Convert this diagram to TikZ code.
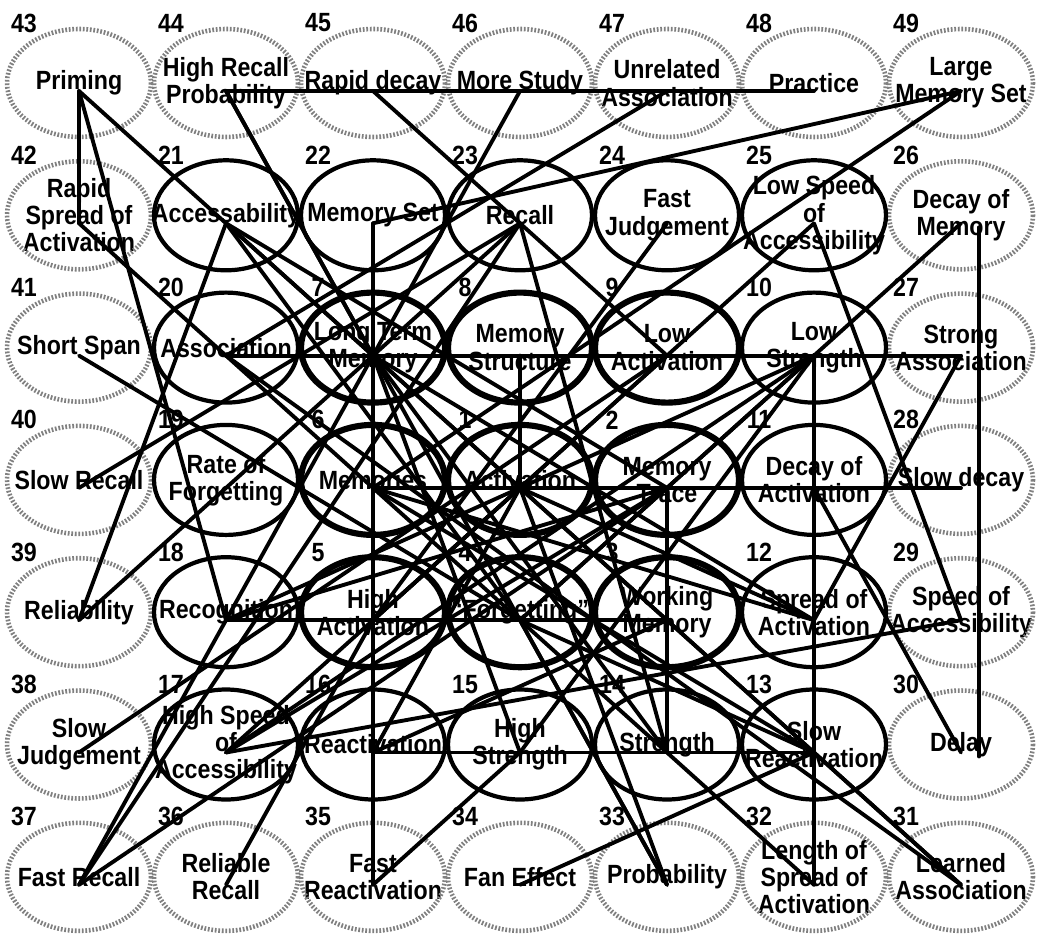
\documentclass[tikz,border=0pt]{standalone}
\usepackage{fontspec}
\setmainfont{Liberation Sans}[FakeStretch=0.88]
\usetikzlibrary{calc}

\tikzset{
  concept/.style={inner sep=0pt, align=center, font=\bfseries\fontsize{15}{15.5}\selectfont},
  core/.style={line width=3.5pt},
  ring/.style={line width=2.4pt},
  outer/.style={draw=black!50, line width=2.6pt, dash pattern=on 1pt off 1pt},
  num/.style={inner sep=0pt, font=\bfseries\fontsize{15}{15}\selectfont},
  link/.style={line width=2.2pt, line cap=round}
}

\begin{document}
\begin{tikzpicture}[x=0.02cm, y=-0.02cm]
        \useasboundingbox (0,0) rectangle (1037,933);

        %outer ring
        \foreach \n/\c/\r/\t in {43/1/1/Priming, 44/2/1/{High Recall\\Probability}, 45/3/1/Rapid decay,
            46/4/1/More Study, 47/5/1/{Unrelated\\Association}, 48/6/1/Practice, 49/7/1/{Large\\Memory Set},
            42/1/2/{Rapid\\Spread of\\Activation}, 26/7/2/{Decay of\\Memory},
            41/1/3/Short Span, 27/7/3/{Strong\\Association},
            40/1/4/Slow Recall, 28/7/4/Slow decay,
            39/1/5/Reliability, 29/7/5/{Speed of\\Accessibility},
            38/1/6/{Slow\\Judgement}, 30/7/6/Delay,
            37/1/7/Fast Recall, 36/2/7/{Reliable\\Recall}, 35/3/7/{Fast\\Reactivation}, 34/4/7/Fan Effect,
            33/5/7/Probability, 32/6/7/{Length of\\Spread of\\Activation}, 31/7/7/{Learned\\Association}}
        {
            \node[concept] (n\n) at ({79+147*(\c-1)}, {83+132.3*(\r-1)}) {\t};
            \draw[outer] (n\n.center) ellipse [x radius=72, y radius=54];
            \node[num] at ($(n\n)+(-55,-60)$) {\n};
            \coordinate (p\n) at ($(n\n)+(0,8)$);
        }

        %middle ring
        \foreach \n/\c/\r/\t in {21/2/2/Accessability, 22/3/2/Memory Set, 23/4/2/Recall, 24/5/2/{Fast\\Judgement},
            25/6/2/{Low Speed\\of\\Accessibility},
            20/2/3/Association, 10/6/3/{Low\\Strength},
            19/2/4/{Rate of\\Forgetting}, 11/6/4/{Decay of\\Activation},
            18/2/5/Recognition, 12/6/5/{Spread of\\Activation},
            17/2/6/{High Speed\\of\\Accessibility}, 16/3/6/Reactivation, 15/4/6/{High\\Strength},
            14/5/6/Strength, 13/6/6/{Slow\\Reactivation}}
        {
            \node[concept] (n\n) at ({79+147*(\c-1)}, {83+132.3*(\r-1)}) {\t};
            \draw[ring] (n\n.center) ellipse [x radius=72, y radius=55];
            \node[num] at ($(n\n)+(-55,-60)$) {\n};
            \coordinate (p\n) at ($(n\n)+(0,8)$);
        }

        %inner ring
        \foreach \n/\c/\r/\t in {7/3/3/{Long Term\\Memory}, 8/4/3/{Memory\\Structure}, 9/5/3/{Low\\Activation},
            6/3/4/Memories, 1/4/4/Activation, 2/5/4/{Memory\\Trace},
            5/3/5/{High\\Activation}, 4/4/5/``Forgetting'', 3/5/5/{Working\\Memory}}
        {
            \node[concept] (n\n) at ({79+147*(\c-1)}, {83+132.3*(\r-1)}) {\t};
            \draw[core] (n\n.center) ellipse [x radius=72, y radius=55];
            \node[num] at ($(n\n)+(-55,-60)$) {\n};
            \coordinate (p\n) at ($(n\n)+(0,8)$);
        }

        %links
        \foreach \a/\b in {43/42, 43/18, 43/7, 44/48, 44/7, 44/33, 45/9, 46/7, 47/20, 49/22, 49/6,
            42/4, 41/4, 40/23, 39/19, 19/7, 38/9, 37/23, 37/7, 36/5,
            21/39, 21/7, 21/2, 21/4, 22/35, 23/7, 23/14, 24/5, 25/29, 25/1, 26/4,
            20/27, 6/28, 18/3, 16/13, 8/1, 2/14, 10/32, 11/30, 27/12,
            17/29, 17/1, 35/15, 34/13, 13/31, 31/20, 31/3, 32/4, 33/4, 33/1,
            10/18, 10/17, 10/4, 10/15, 2/18, 2/17, 2/37,
            7/3, 7/13, 7/14, 7/12, 7/15, 7/16, 6/13, 6/12, 1/5, 1/12, 1/16, 5/9, 4/13, 3/16}
            \draw[link] (p\a) -- (p\b);

        \draw[link] ($(n26)+(18,12)$) -- ($(n30)+(18,12)$);

\end{tikzpicture}
\end{document}
